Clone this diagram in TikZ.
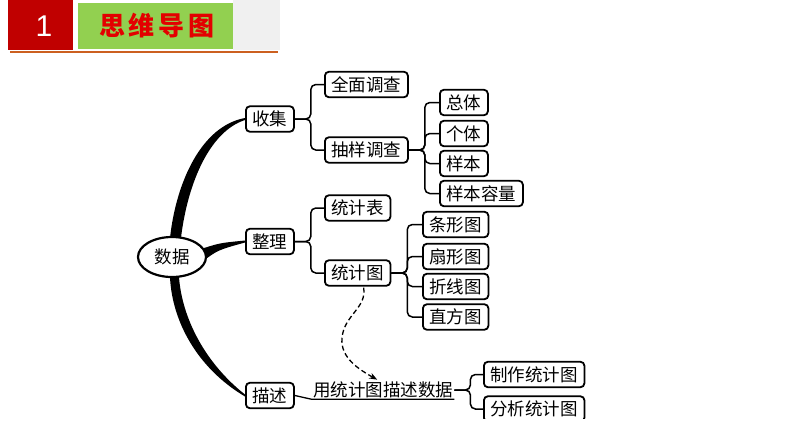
\documentclass[tikz,border=0pt]{standalone}
\usepackage{fontspec}
\setmainfont{Noto Sans CJK SC}
\newfontfamily\numfont{Liberation Sans}
\usetikzlibrary{shapes.geometric,calc,arrows.meta,backgrounds}
\definecolor{headred}{HTML}{C00000}
\definecolor{headgreen}{HTML}{92D050}
\definecolor{titlered}{HTML}{E30000}
\definecolor{lineorange}{HTML}{CC6020}
\definecolor{headgray}{HTML}{F0F0F0}

\begin{document}
\begin{tikzpicture}[x=1pt,y=-1pt]
	\tikzstyle{box}=[draw=black,fill=white,line width=1.8pt,rounded corners=4pt,minimum height=25.5pt,inner xsep=6.5pt,inner ysep=0pt,anchor=west,font=\fontsize{17.5}{17.5}\selectfont]
	\tikzstyle{branch}=[line width=1.5pt,rounded corners=5pt,to path={-- ++(16,0) |- (\tikztotarget)}]
	\begin{scope}[on background layer]
	\fill[white] (0,0) rectangle (794,445);
	\end{scope}
	\useasboundingbox (0,0) rectangle (794,445);
	% header
	\fill[headgray] (233,0) rectangle (280,50);
	\fill[headred] (8,0) rectangle (73,50);
	\fill[headgreen] (78,3) rectangle (233,49);
	\draw[lineorange,line width=2.5pt] (10,52) -- (278,52);
	\node[text=white,font=\numfont\fontsize{30}{30}\selectfont] (num) at (44,26) {1};
	\node[text=titlered,font=\bfseries\fontsize{26}{26}\selectfont] (title) at (157,26) {思\hspace{4pt}维\hspace{4pt}导\hspace{4pt}图};

	\begin{scope}
	\clip (0,60) rectangle (794,418);
	\node[draw,ellipse,fill=white,line width=2.2pt,minimum width=68pt,minimum height=40pt,inner sep=0pt,font=\fontsize{17.5}{17.5}\selectfont] (shuju) at (172,257) {数据};

	\node[box] (shouji) at (245,119) {收集};
	\node[box] (zhengli) at (245,241.5) {整理};
	\node[box] (miaoshu) at (245,395.5) {描述};

	\node[box] (quanmian) at (324,84.5) {全面调查};
	\node[box] (chouyang) at (324,150) {抽样调查};
	\node[box] (zongti) at (439,102.5) {总体};
	\node[box] (geti) at (439,133.5) {个体};
	\node[box] (yangben) at (439,163.5) {样本};
	\node[box] (rongliang) at (439,193.5) {样本容量};

	\node[box] (tongjibiao) at (324,208) {统计表};
	\node[box] (tongjitu) at (324,273) {统计图};
	\node[box] (tiaoxing) at (422,224.5) {条形图};
	\node[box] (shanxing) at (422,256.5) {扇形图};
	\node[box] (zhexian) at (422,286.5) {折线图};
	\node[box] (zhifang) at (422,317) {直方图};

	\node[anchor=west,inner sep=1pt,font=\fontsize{17.5}{17.5}\selectfont] (yong) at (312,390) {用统计图描述数据};
	\node[box] (zhizuo) at (483,374.5) {制作统计图};
	\node[box] (fenxi) at (483,409) {分析统计图};

	% thick branches from the root
	\begin{scope}[on background layer]
	\fill ($(shuju.north)+(-2,2)$) .. controls (176,183) and (201,126) .. ($(shouji.west)+(0,-1)$)
		-- ($(shouji.west)+(0,1)$) .. controls (208,132) and (187,187) .. ($(shuju.north)+(9,2)$) -- cycle;
	\fill ($(shuju.east)+(-3,-9)$) .. controls (220,243) .. ($(zhengli.west)+(0,-1)$)
		-- ($(zhengli.west)+(0,1)$) .. controls (218,250) .. ($(shuju.east)+(-4,4)$) -- cycle;
	\fill ($(shuju.south)+(-2,-1)$) .. controls (172,321) and (197,368) .. ($(miaoshu.west)+(0,1)$)
		-- ($(miaoshu.west)+(0,-1)$) .. controls (205,363) and (182,318) .. ($(shuju.south)+(7,-1)$) -- cycle;
	\end{scope}

	\path (shouji.east) edge[branch] (quanmian.west)
		edge[branch] (chouyang.west);
	\path (chouyang.east) edge[branch] (zongti.west)
		edge[branch] (geti.west)
		edge[branch] (yangben.west)
		edge[branch] (rongliang.west);
	\path (zhengli.east) edge[branch] (tongjibiao.west)
		edge[branch] (tongjitu.west);
	\path (tongjitu.east) edge[branch] (tiaoxing.west)
		edge[branch] (shanxing.west)
		edge[branch] (zhexian.west)
		edge[branch] (zhifang.west);
	\draw[line width=1.3pt] (miaoshu.east) -- (yong.south west) -- (yong.south east);
	\path (yong.east) edge[branch] (zhizuo.west)
		edge[branch] (fenxi.west);

	\draw[line width=1.3pt,dash pattern=on 5pt off 3pt,-{Stealth[length=8pt,width=6pt]}] ($(tongjitu.south)+(6,1)$)
		.. controls (367,308) and (344,315) .. (342,338)
		.. controls (340,358) and (360,370) .. ($(yong.north)+(-6,-1)$);
	\end{scope}
\end{tikzpicture}
\end{document}
